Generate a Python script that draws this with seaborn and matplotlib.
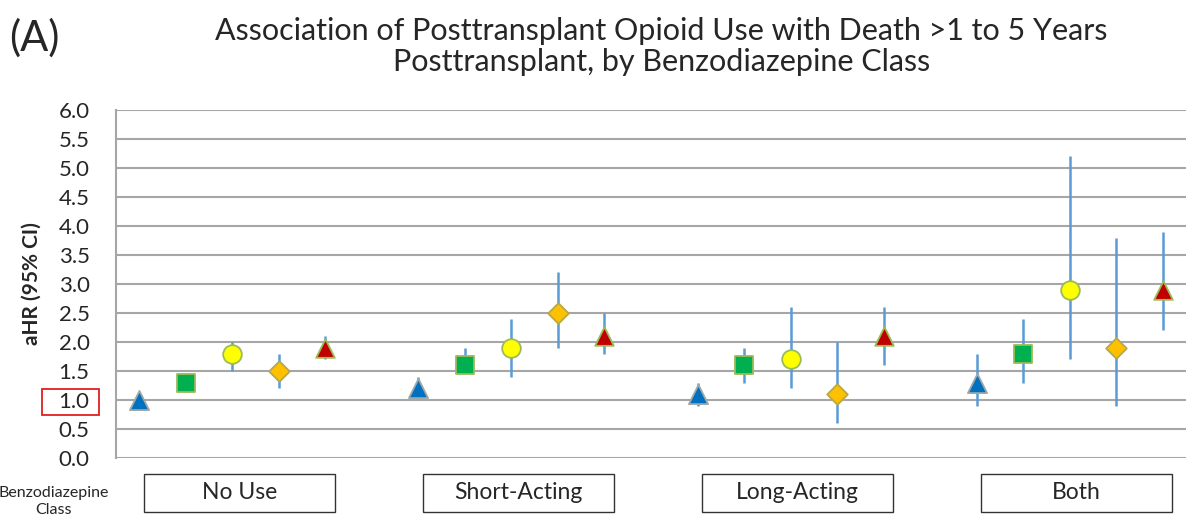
import pandas as pd
import matplotlib.pyplot as plt
import matplotlib.transforms as mtransforms
from matplotlib.patches import Rectangle
import seaborn as sns

# categories (benzodiazepine class) and the five opioid-use series shown in each
benzo_classes = ["No Use", "Short-Acting", "Long-Acting", "Both"]
series = ["Level 1", "Level 2", "Level 3", "Level 4", "Level 5"]

# aHR and 95% CI per series, one value per benzodiazepine class
hr_vals = {
    "Level 1": [1.0, 1.2, 1.1, 1.3],
    "Level 2": [1.3, 1.6, 1.6, 1.8],
    "Level 3": [1.8, 1.9, 1.7, 2.9],
    "Level 4": [1.5, 2.5, 1.1, 1.9],
    "Level 5": [1.9, 2.1, 2.1, 2.9],
}
ci_low = {
    "Level 1": [1.0, 1.1, 0.9, 0.9],
    "Level 2": [1.2, 1.5, 1.3, 1.3],
    "Level 3": [1.5, 1.4, 1.2, 1.7],
    "Level 4": [1.2, 1.9, 0.6, 0.9],
    "Level 5": [1.7, 1.8, 1.6, 2.2],
}
ci_high = {
    "Level 1": [1.0, 1.4, 1.3, 1.8],
    "Level 2": [1.4, 1.9, 1.9, 2.4],
    "Level 3": [2.0, 2.4, 2.6, 5.2],
    "Level 4": [1.8, 3.2, 2.0, 3.8],
    "Level 5": [2.1, 2.5, 2.6, 3.9],
}
y_ticks = [0.0, 0.5, 1.0, 1.5, 2.0, 2.5, 3.0, 3.5, 4.0, 4.5, 5.0, 5.5, 6.0]

# long table, one slot per series, one empty slot between classes
rows = []
for g, cls in enumerate(benzo_classes):
    for s, name in enumerate(series):
        rows.append({"cls": cls, "series": name, "pos": g * 6 + s,
                     "hr": hr_vals[name][g], "lo": ci_low[name][g], "hi": ci_high[name][g]})
df = pd.DataFrame(rows)

fills = {"Level 1": "#0070C0", "Level 2": "#00B050", "Level 3": "#FFFF00",
         "Level 4": "#FFC000", "Level 5": "#C00000"}
edges = {"Level 1": "#A0A8A8", "Level 2": "#9BBB59", "Level 3": "#9BBB59",
         "Level 4": "#B5A94A", "Level 5": "#9BBB59"}
marks = {"Level 1": "^", "Level 2": "s", "Level 3": "o", "Level 4": "D", "Level 5": "^"}
sizes = {"Level 1": 190, "Level 2": 170, "Level 3": 180, "Level 4": 110, "Level 5": 180}

sns.set_style("white")
plt.rcParams["font.family"] = ["Lato", "DejaVu Sans"]

fig = plt.figure(figsize=(11.87, 5.26), dpi=100)
ax = fig.add_axes([0.0977, 0.1293, 0.9015, 0.6616])

ax.vlines(df["pos"], df["lo"], df["hi"], color="#5B9BD5", lw=1.8, zorder=2)
for name in series:
    sub = df[df["series"] == name]
    sns.scatterplot(data=sub, x="pos", y="hr", ax=ax, marker=marks[name], s=sizes[name],
                    color=fills[name], edgecolor=edges[name], linewidth=1.3,
                    zorder=3, legend=False)

ax.set_xlim(-0.5, 22.5)
ax.set_ylim(0, 6)
ax.set_yticks(y_ticks)
ax.set_yticklabels([f"{v:.1f}" for v in y_ticks], fontsize=16)
ax.set_xticks([])
ax.set_xlabel("")
ax.set_ylabel("aHR (95% CI)", fontsize=15, fontweight="bold", labelpad=12)
ax.tick_params(axis="y", length=0, pad=19)
ax.grid(axis="y", color="#A6A6A6", lw=1.5)
ax.set_axisbelow(True)
for side in ["top", "right", "bottom"]:
    ax.spines[side].set_visible(False)
ax.spines["left"].set_color("#A6A6A6")
ax.spines["left"].set_linewidth(1.5)

# red box around the 1.0 tick label
fig.canvas.draw()
lab = [t for t in ax.get_yticklabels() if t.get_text() == "1.0"][0]
bb = lab.get_window_extent().transformed(fig.transFigure.inverted())
fig.patches.append(Rectangle((bb.x0 - 0.014, bb.y0 - 0.006), bb.width + 0.022, bb.height + 0.012,
                             transform=fig.transFigure, fill=False, ec="#E02020", lw=1.3))

# category boxes under the axis
trans = mtransforms.blended_transform_factory(ax.transData, ax.transAxes)
for g, cls in enumerate(benzo_classes):
    center = g * 6 + 2.15
    ax.add_patch(Rectangle((center - 2.05, -0.155), 4.1, 0.11, transform=trans, fill=False,
                           ec="#333333", lw=1.0, clip_on=False))
    ax.text(center, -0.10, cls, transform=trans, ha="center", va="center", fontsize=16.5)
fig.text(0.045, 0.047, "Benzodiazepine\nClass", ha="center", va="center", fontsize=11.5,
         linespacing=1.25)

fig.text(0.008, 0.927, "(A)", fontsize=30, ha="left", va="center")
fig.text(0.557, 0.912, "Association of Posttransplant Opioid Use with Death >1 to 5 Years\n"
         "Posttransplant, by Benzodiazepine Class", fontsize=22, ha="center", va="center",
         linespacing=1.15)

fig.savefig("out.png", dpi=100)
